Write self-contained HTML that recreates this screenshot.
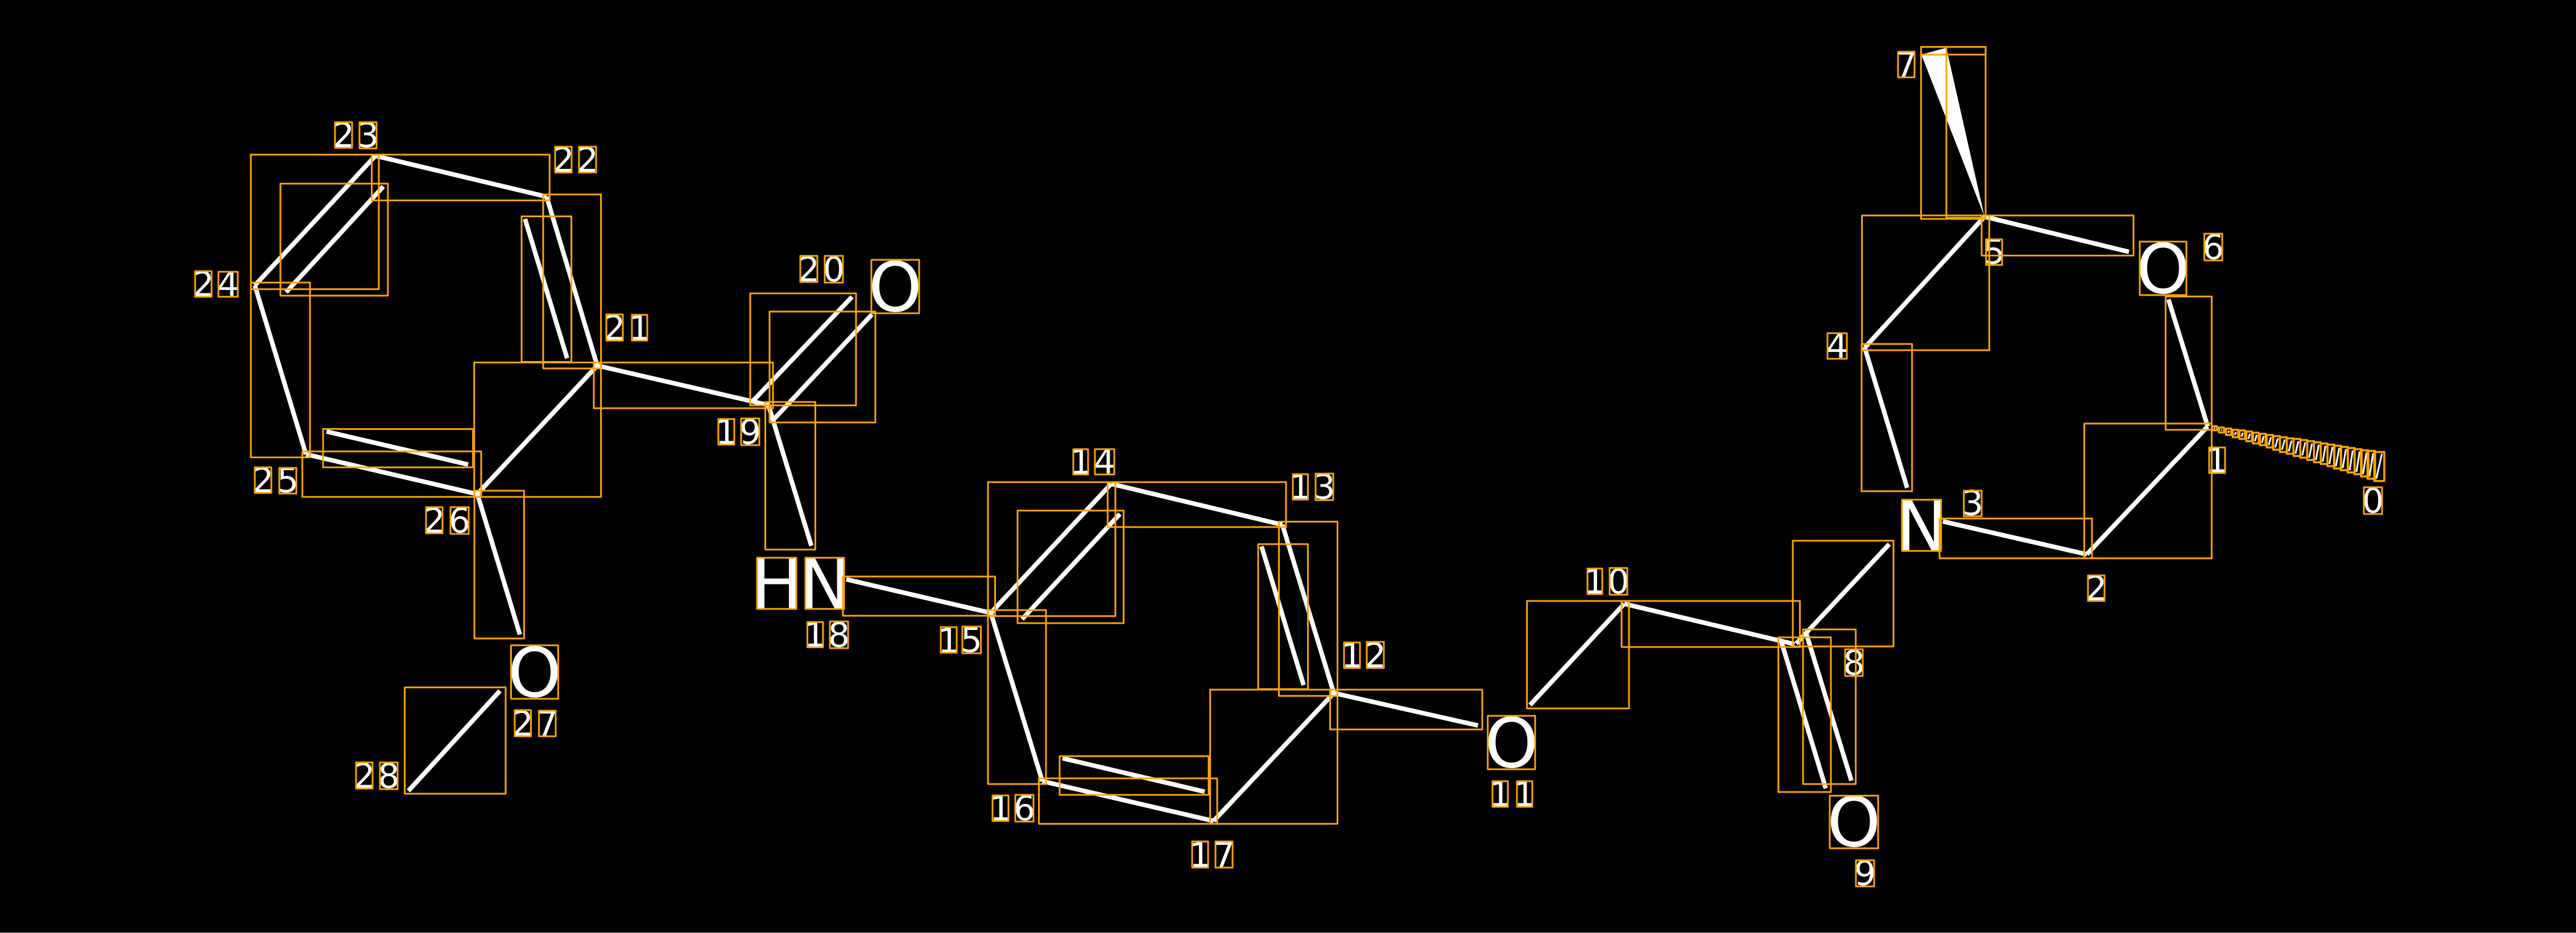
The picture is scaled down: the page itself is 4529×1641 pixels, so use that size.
<!DOCTYPE html>
<html><head><meta charset="utf-8"><style>
html,body{margin:0;padding:0;background:#000;width:4529px;height:1641px;overflow:hidden}
svg{display:block}
text{font-family:"DejaVu Sans",sans-serif;fill:#fff;text-anchor:middle;font-size:60px}
text.b{font-size:120px}
</style></head><body>
<svg width="4529" height="1641" viewBox="0 0 4529 1641" xmlns="http://www.w3.org/2000/svg">
<rect width="4529" height="1641" fill="#000"/>
<rect x="0" y="1640" width="4529" height="1" fill="#888"/>
<!-- bonds -->
<g stroke="#fff" stroke-width="8" fill="none">
<line x1="3881.5" y1="750" x2="3669" y2="975"/>
<line x1="3812.5" y1="526.5" x2="3881.5" y2="750"/>
<line x1="3415.7" y1="917" x2="3669" y2="975"/>
<line x1="3278" y1="610" x2="3353" y2="858"/>
<line x1="3279" y1="611" x2="3489" y2="381"/>
<line x1="3489" y1="381" x2="3743" y2="443"/>
<line x1="3158" y1="1132" x2="3321.7" y2="957"/>
<line x1="2855.7" y1="1062" x2="3155" y2="1133"/>
<line x1="3131.7" y1="1128" x2="3210" y2="1386.6"/>
<line x1="3175" y1="1112" x2="3255" y2="1373"/>
<line x1="2690" y1="1240" x2="2855.7" y2="1062"/>
<line x1="2345" y1="1219" x2="2598.5" y2="1276"/>
<line x1="2254.6" y1="923" x2="2345" y2="1219"/>
<line x1="2218" y1="961" x2="2292" y2="1205"/>
<line x1="1953.6" y1="851" x2="2254.6" y2="923"/>
<line x1="1742" y1="1078" x2="1953.6" y2="851"/>
<line x1="1797" y1="1089" x2="1969" y2="904"/>
<line x1="1742" y1="1078" x2="1832.6" y2="1374"/>
<line x1="1832.6" y1="1374" x2="2133.7" y2="1444"/>
<line x1="1868" y1="1333.6" x2="2118" y2="1392.5"/>
<line x1="2133.7" y1="1444" x2="2345" y2="1219"/>
<line x1="1488" y1="1019" x2="1742" y2="1078"/>
<line x1="1351" y1="712.5" x2="1426.5" y2="960"/>
<line x1="1323" y1="706" x2="1498" y2="522"/>
<line x1="1359" y1="739" x2="1533" y2="553"/>
<line x1="1050" y1="643" x2="1351" y2="712.5"/>
<line x1="961" y1="346" x2="1050" y2="643"/>
<line x1="923" y1="385" x2="997" y2="630"/>
<line x1="660" y1="274" x2="961" y2="346"/>
<line x1="448" y1="502" x2="660" y2="274"/>
<line x1="503" y1="514" x2="674" y2="328"/>
<line x1="448" y1="502" x2="538" y2="799"/>
<line x1="538" y1="799" x2="839" y2="869"/>
<line x1="574" y1="759" x2="823" y2="817"/>
<line x1="839" y1="869" x2="1050" y2="643"/>
<line x1="839" y1="868" x2="914" y2="1116"/>
<line x1="718" y1="1391" x2="879" y2="1215"/>
</g>
<polygon points="3489,381 3378,96 3422,84" fill="#fff"/>
<!-- hash stripes -->
<g stroke="#fff" stroke-width="3" fill="none">
<line x1="3894.5" y1="753.7" x2="3892.7" y2="752.7"/>
<line x1="3906.7" y1="756" x2="3904.9" y2="756.7"/>
<line x1="3919.4" y1="757.7" x2="3917.2" y2="761"/>
<line x1="3931.5" y1="760" x2="3929" y2="765"/>
<line x1="3943.5" y1="761" x2="3940.9" y2="768"/>
<line x1="3955.7" y1="763" x2="3952.8" y2="772"/>
<line x1="3967.6" y1="765" x2="3964.6" y2="776"/>
<line x1="3979.8" y1="767" x2="3976.9" y2="779"/>
<line x1="3992.5" y1="769" x2="3988.7" y2="783"/>
<line x1="4004.7" y1="771" x2="4000.2" y2="787"/>
<line x1="4017" y1="773" x2="4012.1" y2="791"/>
<line x1="4028.8" y1="775" x2="4024" y2="794"/>
<line x1="4040.7" y1="776" x2="4035.8" y2="798"/>
<line x1="4052.9" y1="778" x2="4047.7" y2="801"/>
<line x1="4064.8" y1="780" x2="4059.9" y2="805"/>
<line x1="4076.7" y1="782" x2="4071.8" y2="809"/>
<line x1="4088.5" y1="784" x2="4083.7" y2="812"/>
<line x1="4100.8" y1="786" x2="4095.5" y2="816"/>
<line x1="4112.6" y1="788" x2="4107" y2="820"/>
<line x1="4124.5" y1="790" x2="4118.9" y2="823"/>
<line x1="4136.4" y1="792" x2="4131.1" y2="827"/>
<line x1="4148.6" y1="794" x2="4143" y2="830"/>
<line x1="4160.5" y1="796" x2="4154.5" y2="834"/>
<line x1="4172.3" y1="797" x2="4165.9" y2="838"/>
<line x1="4187.7" y1="798" x2="4178" y2="842"/>
</g>
<!-- labels -->
<text x="4172" y="901.5">0</text>
<text x="3898" y="830.5">1</text>
<text x="3685.5" y="1055.5">2</text>
<text x="3468" y="905.5">3</text>
<text x="3230" y="629.5">4</text>
<text x="3506" y="463.5">5</text>
<text x="3891" y="455.5">6</text>
<text x="3351.5" y="134.5">7</text>
<text x="3259.5" y="1186.5">8</text>
<text x="3279" y="1556.5">9</text>
<text x="2804" y="1043.5">1</text><text x="2845.5" y="1043.5">0</text>
<text x="2637.5" y="1417.5">1</text><text x="2680.5" y="1417.5">1</text>
<text x="2377" y="1173.5">1</text><text x="2418" y="1173.5">2</text>
<text x="2286" y="877">1</text><text x="2328.5" y="877">3</text>
<text x="1900" y="833">1</text><text x="1942" y="833">4</text>
<text x="1668" y="1147.5">1</text><text x="1708" y="1146.5">5</text>
<text x="1759" y="1442.5">1</text><text x="1801" y="1442.5">6</text>
<text x="2110" y="1524.5">1</text><text x="2152" y="1524.5">7</text>
<text x="1433" y="1137">1</text><text x="1475" y="1137.5">8</text>
<text x="1277" y="780.5">1</text><text x="1319" y="780.5">9</text>
<text x="1422" y="494.5">2</text><text x="1466" y="494.5">0</text>
<text x="1080.5" y="597.5">2</text><text x="1124.5" y="597.5">1</text>
<text x="990.5" y="302">2</text><text x="1033" y="302">2</text>
<text x="604" y="258.5">2</text><text x="647" y="258.5">3</text>
<text x="357.5" y="520.5">2</text><text x="401" y="520.5">4</text>
<text x="462.5" y="865.5">2</text><text x="506" y="865.5">5</text>
<text x="763.5" y="936.5">2</text><text x="808" y="936.5">6</text>
<text x="919" y="1293.5">2</text><text x="962" y="1293.5">7</text>
<text x="640.5" y="1385.5">2</text><text x="683.5" y="1385.5">8</text>
<text class="b" x="3803" y="515.5">O</text>
<text class="b" x="3378.5" y="967.5">N</text>
<text class="b" x="3259.5" y="1488.5">O</text>
<text class="b" x="2657.5" y="1349.5">O</text>
<text class="b" x="1365.5" y="1069.5">H</text>
<text class="b" x="1450" y="1069.5">N</text>
<text class="b" x="1574" y="547.5">O</text>
<text class="b" x="940" y="1225.5">O</text>
<!-- boxes -->
<g fill="none" stroke="#FFA500" stroke-width="3" stroke-linejoin="round">
<!-- wedge -->
<rect x="3377.5" y="96" width="113.5" height="289"/>
<rect x="3422" y="82.5" width="69" height="300.5"/>
<rect x="3377.5" y="82.5" width="113.5" height="13.5"/>
<!-- bonds -->
<rect x="3664.5" y="745" width="224" height="237"/>
<rect x="3807.5" y="521.5" width="81" height="234.5"/>
<rect x="3410" y="912" width="268" height="70"/>
<rect x="3273" y="605" width="88.7" height="259"/>
<rect x="3273.6" y="379" width="223.8" height="237"/>
<rect x="3484" y="379" width="267" height="70.5"/>
<rect x="3152" y="951" width="177" height="186"/>
<rect x="2851" y="1057" width="313.5" height="81"/>
<rect x="3126.7" y="1121" width="92.3" height="272"/>
<rect x="3170" y="1107" width="92.7" height="272"/>
<rect x="2684.6" y="1057" width="179.4" height="189"/>
<rect x="2338.5" y="1213" width="267.5" height="70"/>
<rect x="2248.5" y="917.5" width="103" height="306.5"/>
<rect x="2212" y="957" width="87.5" height="255"/>
<rect x="1947.4" y="848" width="313.6" height="79"/>
<rect x="1737" y="848" width="224" height="235.6"/>
<rect x="1789" y="898" width="186.5" height="198"/>
<rect x="1737" y="1073" width="102" height="306"/>
<rect x="1826.5" y="1369" width="313.5" height="80"/>
<rect x="1863" y="1330" width="262" height="68"/>
<rect x="2127.6" y="1213" width="223.9" height="236"/>
<rect x="1482" y="1014" width="267.5" height="69"/>
<rect x="1345.5" y="707" width="88" height="259.6"/>
<rect x="1319" y="516" width="186" height="197"/>
<rect x="1353" y="548" width="186" height="195"/>
<rect x="1044" y="637.6" width="315" height="80.4"/>
<rect x="955" y="342" width="101.6" height="306"/>
<rect x="917" y="380.5" width="87.6" height="256"/>
<rect x="653.6" y="272" width="312.7" height="80.5"/>
<rect x="441" y="272" width="225" height="236.6"/>
<rect x="493" y="323" width="189" height="197"/>
<rect x="441" y="497" width="104" height="307.5"/>
<rect x="531.6" y="794" width="314.4" height="80"/>
<rect x="568" y="754.5" width="263.6" height="67.5"/>
<rect x="833.7" y="637.6" width="222.9" height="236.4"/>
<rect x="834" y="863" width="87.4" height="260"/>
<rect x="711.6" y="1209" width="177.4" height="187"/>
<!-- labels -->
<rect x="4156" y="857" width="32" height="47"/>
<rect x="3884" y="787" width="28" height="45"/>
<rect x="3671" y="1012" width="29" height="45"/>
<rect x="3452.7" y="863" width="31.3" height="45"/>
<rect x="3213" y="586" width="34" height="45"/>
<rect x="3491.7" y="421" width="28.3" height="45"/>
<rect x="3875.6" y="411" width="31.4" height="47"/>
<rect x="3337" y="91" width="29" height="45"/>
<rect x="3244" y="1142" width="31" height="47"/>
<rect x="3263" y="1513" width="32" height="46"/>
<rect x="2791" y="1000" width="26" height="45"/><rect x="2830" y="999" width="31" height="47"/>
<rect x="2624" y="1374" width="27" height="45"/><rect x="2667" y="1374" width="27" height="45"/>
<rect x="2363" y="1130" width="28" height="45"/><rect x="2403" y="1129" width="30" height="46"/>
<rect x="2273" y="834" width="26.5" height="44.7"/><rect x="2313" y="833" width="31" height="46.6"/>
<rect x="1887" y="790" width="26" height="44.5"/><rect x="1925" y="790" width="34" height="44.5"/>
<rect x="1654" y="1103" width="28" height="45"/><rect x="1692" y="1102" width="32.5" height="47"/>
<rect x="1745" y="1399" width="28" height="45"/><rect x="1785" y="1398" width="32" height="47"/>
<rect x="2096" y="1480" width="28" height="46"/><rect x="2137" y="1480" width="30" height="46"/>
<rect x="1419.5" y="1094" width="27.5" height="44.5"/><rect x="1459" y="1093" width="32" height="47"/>
<rect x="1263" y="737" width="28" height="45"/><rect x="1303" y="736" width="32" height="47"/>
<rect x="1407" y="450" width="30" height="46"/><rect x="1450" y="450" width="32" height="47"/>
<rect x="1066" y="553" width="29" height="46"/><rect x="1111" y="553.7" width="27" height="45.3"/>
<rect x="976" y="258" width="29" height="45.5"/><rect x="1018" y="258" width="30" height="45.5"/>
<rect x="589" y="215" width="30" height="45"/><rect x="632" y="215" width="30" height="46"/>
<rect x="343" y="477" width="29" height="45"/><rect x="384" y="478" width="34" height="44"/>
<rect x="448" y="822" width="29" height="45"/><rect x="491" y="823" width="30" height="45"/>
<rect x="749" y="892" width="29" height="46"/><rect x="792" y="892" width="32" height="47"/>
<rect x="905" y="1249" width="28.5" height="46"/><rect x="947.6" y="1250" width="29.4" height="45"/>
<rect x="626" y="1341" width="29" height="46"/><rect x="668" y="1341" width="31" height="47"/>
<rect x="3762" y="425" width="82" height="94"/>
<rect x="3344" y="879" width="68.7" height="90"/>
<rect x="3217" y="1399.5" width="85" height="92.5"/>
<rect x="2615.7" y="1259" width="83.3" height="94"/>
<rect x="1331" y="981" width="69" height="90"/>
<rect x="1416" y="981" width="68" height="90"/>
<rect x="1532" y="457" width="84" height="94"/>
<rect x="898.5" y="1135" width="82.9" height="94"/>
</g>
<!-- hash -->
<g fill="none" stroke="#FFA500" stroke-width="3.5" stroke-linejoin="round">
<rect x="3889.2" y="749.7" width="8.8" height="7"/>
<rect x="3901.4" y="752" width="8.8" height="8.7"/>
<rect x="3913.7" y="753.7" width="9.2" height="11.3"/>
<rect x="3925.5" y="756" width="9.5" height="13"/>
<rect x="3937.4" y="757" width="9.6" height="15"/>
<rect x="3949.3" y="759" width="9.9" height="17"/>
<rect x="3961.1" y="761" width="10" height="19"/>
<rect x="3973.4" y="763" width="9.9" height="20"/>
<rect x="3985.2" y="765" width="10.8" height="22"/>
<rect x="3996.7" y="767" width="11.5" height="24"/>
<rect x="4008.6" y="769" width="11.9" height="26"/>
<rect x="4020.5" y="771" width="11.8" height="27"/>
<rect x="4032.3" y="772" width="11.9" height="30"/>
<rect x="4044.2" y="774" width="12.2" height="31"/>
<rect x="4056.4" y="776" width="11.9" height="33"/>
<rect x="4068.3" y="778" width="11.9" height="35"/>
<rect x="4080.2" y="780" width="11.8" height="36"/>
<rect x="4092" y="782" width="12.3" height="38"/>
<rect x="4103.5" y="784" width="12.6" height="40"/>
<rect x="4115.4" y="786" width="12.6" height="41"/>
<rect x="4127.6" y="788" width="12.3" height="43"/>
<rect x="4139.5" y="790" width="12.6" height="44"/>
<rect x="4151" y="792" width="13" height="46"/>
<rect x="4162.4" y="793" width="13.4" height="49"/>
<rect x="4174.3" y="795" width="17.6" height="51"/>
</g>
</svg>
</body></html>
